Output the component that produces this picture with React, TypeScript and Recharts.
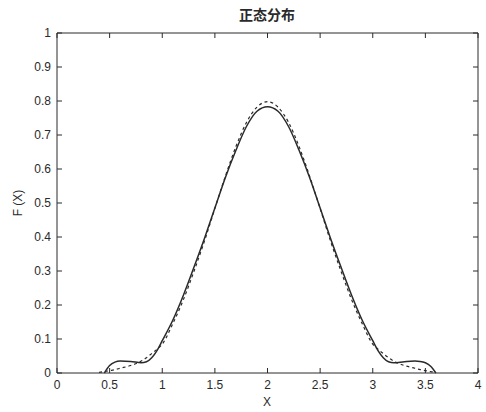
import React from "react";
import { LineChart, Line, XAxis, YAxis } from "recharts";

const xValues = [0.4, 0.45, 0.5, 0.55, 0.6, 0.7, 0.8, 0.85, 0.9, 0.95, 1.0, 1.1, 1.2, 1.3, 1.4, 1.5, 1.6, 1.7, 1.8, 1.9, 2.0,
  2.1, 2.2, 2.3, 2.4, 2.5, 2.6, 2.7, 2.8, 2.9, 3.0, 3.05, 3.1, 3.15, 3.2, 3.3, 3.4, 3.45, 3.5, 3.55, 3.6];

const fitValues = [null, 0, 0.022, 0.032, 0.035, 0.034, 0.03, 0.033, 0.045, 0.066, 0.095, 0.155, 0.228, 0.31, 0.395, 0.485, 0.575, 0.655, 0.725, 0.77, 0.783,
  0.77, 0.725, 0.655, 0.575, 0.485, 0.395, 0.31, 0.228, 0.155, 0.095, 0.066, 0.045, 0.033, 0.03, 0.033, 0.035, 0.034, 0.03, 0.02, 0];

const normalValues = [0.002, 0.004, 0.007, 0.01, 0.014, 0.022, 0.035, 0.045, 0.057, 0.07, 0.085, 0.145, 0.215, 0.298, 0.387, 0.484, 0.579, 0.666, 0.737, 0.782, 0.798,
  0.782, 0.737, 0.666, 0.579, 0.484, 0.387, 0.298, 0.215, 0.145, 0.085, 0.07, 0.057, 0.045, 0.035, 0.022, 0.014, 0.01, 0.007, 0.004, 0.002];

const xTicks = [0, 0.5, 1, 1.5, 2, 2.5, 3, 3.5, 4];
const yTicks = [0, 0.1, 0.2, 0.3, 0.4, 0.5, 0.6, 0.7, 0.8, 0.9, 1];

const data = xValues.map((x, i) => ({ x, fit: fitValues[i], normal: normalValues[i] }));

const INK = "#2a2a2a";
const FONT = "'Liberation Sans', Arial, sans-serif";

const BottomTick = (props: any) => {
  const { x, y, payload } = props;
  return (
    <g>
      <line x1={x} x2={x} y1={y} y2={y - 5} stroke={INK} strokeWidth={1} />
      <text x={x} y={y + 16} textAnchor="middle" fontSize={12} fontFamily={FONT} fill={INK}>{payload.value}</text>
    </g>
  );
};
const TopTick = (props: any) => {
  const { x, y } = props;
  return <line x1={x} x2={x} y1={y} y2={y + 5} stroke={INK} strokeWidth={1} />;
};
const LeftTick = (props: any) => {
  const { x, y, payload } = props;
  return (
    <g>
      <line x1={x} x2={x + 5} y1={y} y2={y} stroke={INK} strokeWidth={1} />
      <text x={x - 6} y={y + 4} textAnchor="end" fontSize={12} fontFamily={FONT} fill={INK}>{payload.value}</text>
    </g>
  );
};
const RightTick = (props: any) => {
  const { x, y } = props;
  return <line x1={x} x2={x - 5} y1={y} y2={y} stroke={INK} strokeWidth={1} />;
};

export default function App() {
  return (
    <div style={{ position: "absolute", left: 0, top: 0, width: 486, height: 412, background: "#fff" }}>
      <LineChart width={486} height={412} data={data} margin={{ top: 32, right: 7, bottom: 9, left: 0 }}>
        <XAxis dataKey="x" type="number" domain={[0, 4]} ticks={xTicks} height={30} tickSize={0} tickMargin={0}
          axisLine={{ stroke: INK }} tickLine={false} tick={<BottomTick />} interval={0} />
        <XAxis xAxisId="top" orientation="top" dataKey="x" type="number" domain={[0, 4]} ticks={xTicks} height={1}
          tickSize={0} tickMargin={0} axisLine={{ stroke: INK }} tickLine={false} tick={<TopTick />} interval={0} />
        <YAxis type="number" domain={[0, 1]} ticks={yTicks} width={57} tickSize={0} tickMargin={0}
          axisLine={{ stroke: INK }} tickLine={false} tick={<LeftTick />} interval={0} />
        <YAxis yAxisId="right" orientation="right" type="number" domain={[0, 1]} ticks={yTicks} width={1}
          tickSize={0} tickMargin={0} axisLine={{ stroke: INK }} tickLine={false} tick={<RightTick />} interval={0} />
        <Line xAxisId="top" yAxisId="right" dataKey="normal" type="monotone" stroke="none" strokeWidth={0} dot={false}
          activeDot={false} legendType="none" isAnimationActive={false} />
        <Line dataKey="normal" type="monotone" stroke={INK} strokeWidth={1.2} strokeDasharray="3 3" dot={false} isAnimationActive={false} />
        <Line dataKey="fit" type="monotone" stroke={INK} strokeWidth={1.5} dot={false} isAnimationActive={false} />
      </LineChart>
      <div style={{ position: "absolute", left: 167, width: 200, top: 4, textAlign: "center", fontFamily: "'Noto Sans CJK SC', sans-serif", fontSize: 14, fontWeight: 700, color: INK }}>正态分布</div>
      <div style={{ position: "absolute", left: 217, width: 100, top: 395, textAlign: "center", fontFamily: FONT, fontSize: 12, lineHeight: "14px", color: INK }}>X</div>
      <div style={{ position: "absolute", left: -32, width: 100, top: 196, textAlign: "center", fontFamily: FONT, fontSize: 12, color: INK, transform: "rotate(-90deg)" }}>F (X)</div>
    </div>
  );
}
